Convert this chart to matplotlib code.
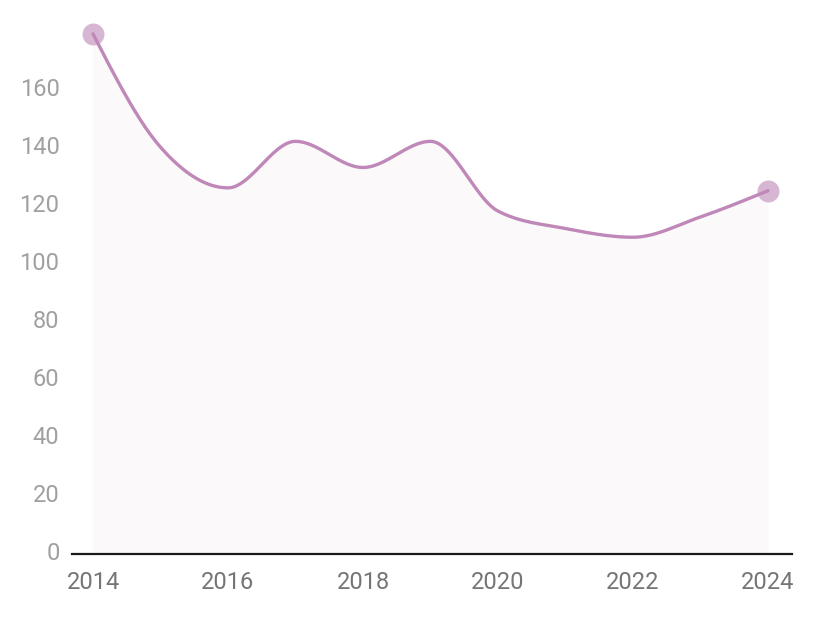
"""Smooth line chart with light area fill, yearly values 2014-2024."""

import numpy as np
import matplotlib.pyplot as plt

# Data
years = [2014, 2015, 2016, 2017, 2018, 2019, 2020, 2021, 2022, 2023, 2024]
values = [179, 140, 126, 142, 133, 142, 118, 112, 109, 116, 125]
y_ticks = [0, 20, 40, 60, 80, 100, 120, 140, 160]
x_ticks = [2014, 2016, 2018, 2020, 2022, 2024]

LINE_COLOR = "#bf88b9"
MARKER_COLOR = "#d7b6d3"
FILL_COLOR = "#fbf9fa"


def monotone_curve(x, y, n=40):
    """Monotone cubic Hermite curve (same idea as d3.curveMonotoneX)."""
    x = np.asarray(x, float)
    y = np.asarray(y, float)
    h = np.diff(x)
    s = np.diff(y) / h
    m = np.zeros_like(y)
    for i in range(1, len(x) - 1):
        p = (s[i - 1] * h[i] + s[i] * h[i - 1]) / (h[i - 1] + h[i])
        m[i] = (np.sign(s[i - 1]) + np.sign(s[i])) * min(
            abs(s[i - 1]), abs(s[i]), 0.5 * abs(p)
        )
    m[0] = (3 * s[0] - m[1]) / 2
    m[-1] = (3 * s[-1] - m[-2]) / 2
    xs, ys = [], []
    for i in range(len(x) - 1):
        t = np.linspace(0, 1, n, endpoint=(i == len(x) - 2))
        h00 = 2 * t**3 - 3 * t**2 + 1
        h10 = t**3 - 2 * t**2 + t
        h01 = -2 * t**3 + 3 * t**2
        h11 = t**3 - t**2
        xs.append(x[i] + t * h[i])
        ys.append(h00 * y[i] + h10 * h[i] * m[i] + h01 * y[i + 1] + h11 * h[i] * m[i + 1])
    return np.concatenate(xs), np.concatenate(ys)


def main():
    plt.rcParams["font.family"] = ["Roboto", "DejaVu Sans"]

    fig = plt.figure(figsize=(8.16, 6.35), dpi=100)
    ax = fig.add_axes([72 / 816, 81 / 635, (792 - 72) / 816, 534 / 635])

    cx, cy = monotone_curve(years, values)
    ax.fill_between(cx, 0, cy, color=FILL_COLOR, lw=0, zorder=1)
    ax.plot(cx, cy, color=LINE_COLOR, lw=2.4, solid_capstyle="round", zorder=3)
    ax.scatter(
        [years[0], years[-1]],
        [values[0], values[-1]],
        s=250,
        color=MARKER_COLOR,
        lw=0,
        zorder=2,
        clip_on=False,
    )

    ax.set_xlim(2014 - 21 / 67.5, 2024 + 24 / 67.5)
    ax.set_ylim(0, 534 / 2.906)
    ax.set_xticks(x_ticks)
    ax.set_yticks(y_ticks)

    for side in ["top", "right", "left"]:
        ax.spines[side].set_visible(False)
    ax.spines["bottom"].set_color("#1a1a1a")
    ax.spines["bottom"].set_linewidth(1.6)

    ax.tick_params(axis="y", length=0, pad=9, labelsize=17, labelcolor="#a0a0a0")
    ax.tick_params(axis="x", length=0, pad=12, labelsize=17, labelcolor="#757575")
    for lbl in ax.get_yticklabels():
        lbl.set_verticalalignment("center")

    fig.savefig("out.png", dpi=100)
    plt.close(fig)


if __name__ == "__main__":
    main()
